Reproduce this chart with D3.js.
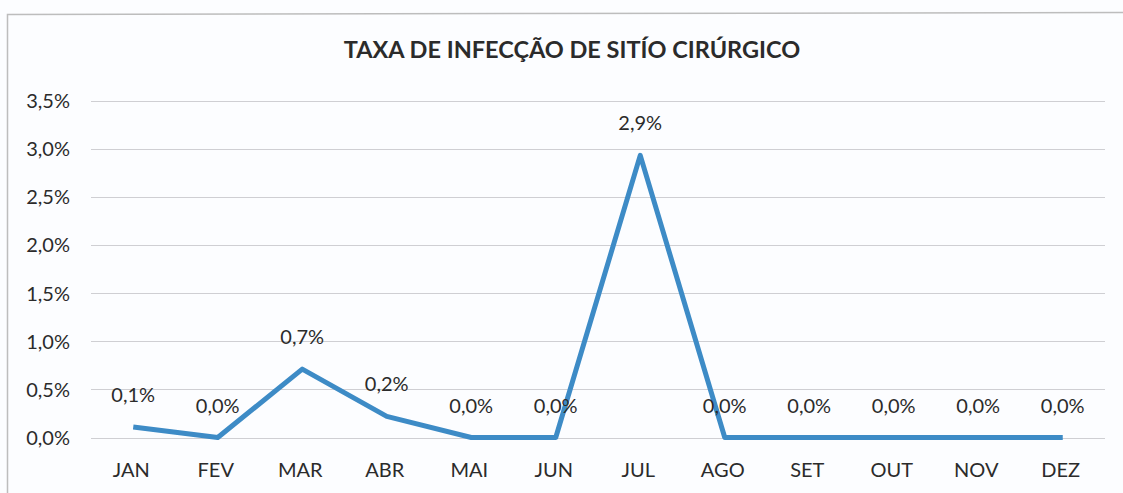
<!DOCTYPE html>
<html>
<head>
<meta charset="utf-8">
<script src="https://cdn.jsdelivr.net/npm/d3@7"></script>
<style>
  html, body { margin: 0; padding: 0; background: #fcfdff; }
  svg { display: block; }
  text { font-family: Lato, "Open Sans", sans-serif; fill: #2b2b2b; }
</style>
</head>
<body>
<svg id="chart" width="1123" height="493"></svg>
<script>
// Monthly surgical site infection rate (%)
const months = ["JAN", "FEV", "MAR", "ABR", "MAI", "JUN", "JUL", "AGO", "SET", "OUT", "NOV", "DEZ"];
const rates = [0.11, 0.0, 0.71, 0.22, 0.0, 0.0, 2.93, 0.0, 0.0, 0.0, 0.0, 0.0];
const yTicks = [0, 0.5, 1.0, 1.5, 2.0, 2.5, 3.0, 3.5];
const titleText = "TAXA DE INFECÇÃO DE SITÍO CIRÚRGICO";

const svg = d3.select("#chart");
const W = 1123, H = 493;
const plot = { left: 91, right: 1105, top: 100.5, bottom: 437.5 };
const labelSize = 20;

const pct = v => v.toFixed(1).replace(".", ",") + "%";

// frame of the chart area
svg.append("path")
  .attr("d", `M7.5,${H} L7.5,14.5 L${W},12.5`)
  .attr("fill", "none")
  .attr("stroke", "#bdbdbd")
  .attr("stroke-width", 1.5);

const x = d3.scaleBand().domain(months).range([plot.left, plot.right]).padding(0);
const y = d3.scaleLinear().domain([0, 3.5]).range([plot.bottom, plot.top]);
const cx = m => x(m) + x.bandwidth() / 2;

// horizontal gridlines
svg.append("g")
  .selectAll("line")
  .data(yTicks)
  .join("line")
  .attr("x1", plot.left)
  .attr("x2", plot.right)
  .attr("y1", d => Math.round(y(d)) + 0.5)
  .attr("y2", d => Math.round(y(d)) + 0.5)
  .attr("stroke", "#cfcfd3")
  .attr("stroke-width", 1);

// y axis labels
const yAxis = d3.axisLeft(y).tickValues(yTicks).tickFormat(pct).tickSize(0).tickPadding(0);
const gy = svg.append("g").attr("transform", "translate(70,0)").call(yAxis);
gy.select(".domain").remove();
gy.selectAll("text")
  .attr("font-size", labelSize)
  .attr("dy", "0.35em")
  .style("font-family", "Lato, 'Open Sans', sans-serif")
  .attr("fill", "#2b2b2b");

// x axis labels
const xAxis = d3.axisBottom(x).tickSize(0).tickPadding(0);
const gx = svg.append("g").attr("transform", "translate(-2,477)").call(xAxis);
gx.select(".domain").remove();
gx.selectAll("text")
  .attr("font-size", labelSize)
  .attr("dy", 0)
  .attr("y", 0)
  .style("font-family", "Lato, 'Open Sans', sans-serif")
  .attr("fill", "#2b2b2b");

// rate line
const line = d3.line()
  .x((d, i) => cx(months[i]))
  .y(d => y(d));

svg.append("path")
  .datum(rates)
  .attr("d", line)
  .attr("fill", "none")
  .attr("stroke", "#3d8bc6")
  .attr("stroke-width", 5)
  .attr("stroke-linejoin", "round")
  .attr("stroke-linecap", "butt");

// value labels above each point
svg.append("g")
  .selectAll("text")
  .data(rates)
  .join("text")
  .attr("x", (d, i) => cx(months[i]))
  .attr("y", d => y(d) - 25)
  .attr("text-anchor", "middle")
  .attr("font-size", labelSize)
  .text(d => pct(d));

// title
svg.append("text")
  .attr("x", 572)
  .attr("y", 58)
  .attr("text-anchor", "middle")
  .attr("font-size", 23.5)
  .attr("font-weight", "bold")
  .attr("fill", "#1f1f1f")
  .text(titleText);
</script>
</body>
</html>
